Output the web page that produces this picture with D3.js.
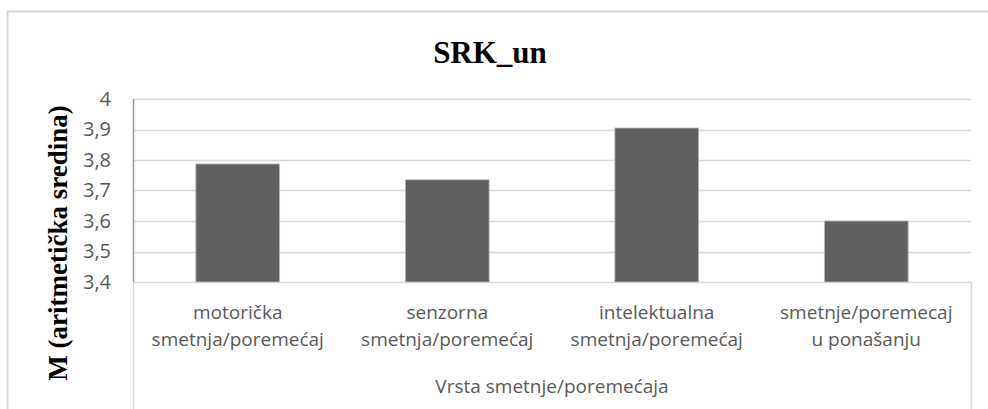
<!DOCTYPE html>
<html>
<head>
<meta charset="utf-8">
<script src="https://cdn.jsdelivr.net/npm/d3@7"></script>
<style>
  body { margin: 0; background: #fff; }
  svg { display: block; }
</style>
</head>
<body>
<div id="chart"></div>
<script>
// chart data
var categories = [
    ["motorička", "smetnja/poremećaj"],
    ["senzorna", "smetnja/poremećaj"],
    ["intelektualna", "smetnja/poremećaj"],
    ["smetnje/poremecaj", "u ponašanju"]
];
var values = [3.787, 3.735, 3.905, 3.6];
var yTicks = [3.4, 3.5, 3.6, 3.7, 3.8, 3.9, 4];
var chartTitle = "SRK_un";
var yTitle = "M (aritmetička sredina)";
var xTitle = "Vrsta smetnje/poremećaja";

var width = 988,
    height = 409;
var margin = { top: 99, right: 17, bottom: 127, left: 133 };

var svg = d3.select("#chart")
    .append("svg")
    .attr("width", width)
    .attr("height", height);

// outer chart border (runs off the right and bottom edge)
svg.append("rect")
    .attr("x", 7.5)
    .attr("y", 11.5)
    .attr("width", width + 20)
    .attr("height", height + 20)
    .attr("fill", "none")
    .attr("stroke", "#d9d9d9")
    .attr("stroke-width", 2);

var x = d3.scaleBand()
    .domain(d3.range(categories.length))
    .range([margin.left, width - margin.right])
    .paddingInner(0.6)
    .paddingOuter(0.3);

var y = d3.scaleLinear()
    .domain([3.4, 4])
    .range([height - margin.bottom, margin.top]);

// gridlines
svg.append("g")
    .selectAll("line")
    .data(yTicks)
    .enter()
    .append("line")
    .attr("x1", margin.left)
    .attr("x2", width - margin.right)
    .attr("y1", function (d) { return Math.round(y(d)) + 0.5; })
    .attr("y2", function (d) { return Math.round(y(d)) + 0.5; })
    .attr("stroke", "#d9d9d9")
    .attr("stroke-width", 1.5);

// box under the plot for the category labels
svg.append("line")
    .attr("x1", width - margin.right + 0.5)
    .attr("x2", width - margin.right + 0.5)
    .attr("y1", y(3.4))
    .attr("y2", height)
    .attr("stroke", "#d9d9d9")
    .attr("stroke-width", 1.5);
svg.append("line")
    .attr("x1", margin.left + 0.5)
    .attr("x2", margin.left + 0.5)
    .attr("y1", y(3.4))
    .attr("y2", height)
    .attr("stroke", "#d9d9d9")
    .attr("stroke-width", 1.5);

// bars
svg.append("g")
    .selectAll("rect")
    .data(values)
    .enter()
    .append("rect")
    .attr("x", function (d, i) { return x(i); })
    .attr("y", function (d) { return y(d); })
    .attr("width", x.bandwidth())
    .attr("height", function (d) { return y(3.4) - y(d); })
    .attr("fill", "#5f5f5f")
    .attr("stroke", "#bdbdbd")
    .attr("stroke-width", 0.8);

// y axis (labels only, line drawn by hand)
var yAxis = svg.append("g")
    .attr("transform", "translate(" + margin.left + ",0)")
    .call(d3.axisLeft(y).tickValues(yTicks).tickSize(0).tickPadding(22)
        .tickFormat(function (d) { return String(d).replace(".", ","); }));
yAxis.select(".domain").remove();
yAxis.selectAll("text")
    .attr("fill", "#595959")
    .style("font-family", "'Open Sans', sans-serif")
    .style("font-size", "20px");

svg.append("line")
    .attr("x1", margin.left + 0.5)
    .attr("x2", margin.left + 0.5)
    .attr("y1", y(4))
    .attr("y2", y(3.4))
    .attr("stroke", "#9a9a9a")
    .attr("stroke-width", 1.5);

// category labels
var labels = svg.append("g")
    .selectAll("text")
    .data(categories)
    .enter()
    .append("text")
    .attr("x", function (d, i) { return x(i) + x.bandwidth() / 2; })
    .attr("y", 319)
    .attr("text-anchor", "middle")
    .attr("fill", "#595959")
    .style("font-family", "'Open Sans', sans-serif")
    .style("font-size", "19px");
labels.selectAll("tspan")
    .data(function (d) { return d; })
    .enter()
    .append("tspan")
    .attr("x", function () { return d3.select(this.parentNode).attr("x"); })
    .attr("dy", function (d, i) { return i === 0 ? 0 : 27; })
    .text(function (d) { return d; });

// x axis title
svg.append("text")
    .attr("x", (margin.left + width - margin.right) / 2)
    .attr("y", 393)
    .attr("text-anchor", "middle")
    .attr("fill", "#595959")
    .style("font-family", "'Open Sans', sans-serif")
    .style("font-size", "19px")
    .text(xTitle);

// y axis title
svg.append("text")
    .attr("transform", "translate(67,243) rotate(-90)")
    .attr("text-anchor", "middle")
    .attr("fill", "#000")
    .style("font-family", "'Liberation Serif', serif")
    .style("font-weight", "bold")
    .style("font-size", "27px")
    .text(yTitle);

// chart title
svg.append("text")
    .attr("x", 490)
    .attr("y", 63)
    .attr("text-anchor", "middle")
    .attr("fill", "#000")
    .style("font-family", "'Liberation Serif', serif")
    .style("font-weight", "bold")
    .style("font-size", "31px")
    .text(chartTitle);
</script>
</body>
</html>
